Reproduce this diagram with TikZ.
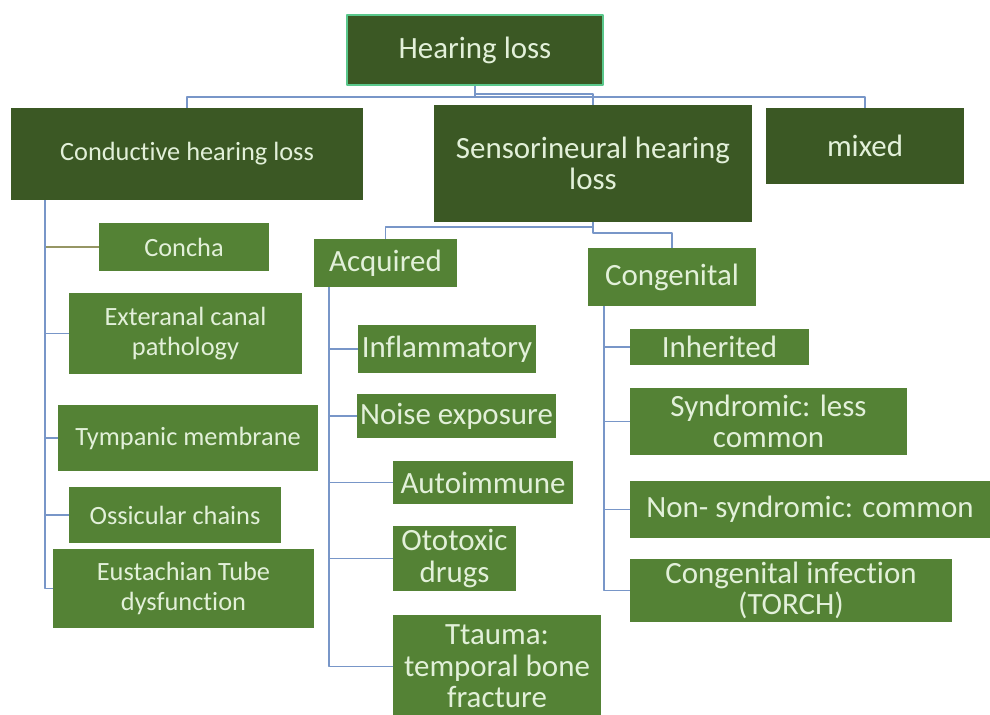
\documentclass[tikz,border=0pt]{standalone}
\usepackage{fontspec}
\setmainfont{Carlito}[Ligatures=NoCommon]
\definecolor{darkgr}{RGB}{59,88,36}
\definecolor{midgr}{RGB}{84,130,53}
\definecolor{txtgr}{RGB}{226,240,217}
\definecolor{linkbl}{RGB}{120,150,200}
\definecolor{linkol}{RGB}{150,150,100}
\definecolor{rimgr}{RGB}{90,200,140}
\begin{document}
\begin{tikzpicture}[x=0.02cm, y=-0.02cm, line join=round,
  hdbox/.style={fill=darkgr, text=txtgr, inner sep=0pt, align=center, font=\fontsize{17.6}{18}\selectfont},
  grpbox/.style={fill=midgr, text=txtgr, inner sep=0pt, align=center, font=\fontsize{17.6}{18}\selectfont},
  itembox/.style={grpbox, font=\fontsize{15}{17}\selectfont},
  link/.style={draw=linkbl, line width=1.1pt}]
\useasboundingbox (0,0) rectangle (990,715);
\clip (0,0) rectangle (990,715);
% top levels
\node[hdbox, draw=rimgr, line width=1pt, minimum width=5.12cm, minimum height=1.40cm] (hear) at (475,50) {Hearing loss};
\node[hdbox, font=\fontsize{15}{17}\selectfont, minimum width=7.04cm, minimum height=1.84cm] (cond) at (187,154) {Conductive hearing loss};
\node[hdbox, minimum width=6.36cm, minimum height=2.34cm] (sens) at (593,163.5) {Sensorineural hearing\\loss};
\node[hdbox, minimum width=3.96cm, minimum height=1.52cm] (mixed) at (865,146) {mixed};
\node[grpbox, minimum width=2.86cm, minimum height=0.96cm] (acq) at (385.5,263) {Acquired};
\node[grpbox, minimum width=3.36cm, minimum height=1.16cm] (cong) at (672,277) {Congenital};
% conductive
\node[itembox, minimum width=3.40cm, minimum height=0.96cm] (concha) at (184,247) {Concha};
\node[itembox, minimum width=4.66cm, minimum height=1.62cm] (canal) at (185.5,333.5) {Exteranal canal\\pathology};
\node[itembox, minimum width=5.20cm, minimum height=1.32cm] (tymp) at (188,438) {Tympanic membrane};
\node[itembox, minimum width=4.24cm, minimum height=1.12cm] (ossic) at (175,515) {Ossicular chains};
\node[itembox, minimum width=5.22cm, minimum height=1.58cm] (eust) at (183.5,588.5) {Eustachian Tube\\dysfunction};
% acquired
\node[grpbox, minimum width=3.56cm, minimum height=0.96cm] (infl) at (447,349) {Inflammatory};
\node[grpbox, minimum width=3.98cm, minimum height=0.88cm] (noise) at (456.5,416) {Noise exposure};
\node[grpbox, minimum width=3.60cm, minimum height=0.86cm] (auto) at (483,482.5) {Autoimmune};
\node[grpbox, minimum width=2.46cm, minimum height=1.30cm] (oto) at (454.5,558.5) {Ototoxic\\drugs};
\node[grpbox, minimum width=4.16cm, minimum height=2.06cm] (trauma) at (497,666.5) {Ttauma:\\temporal bone\\fracture};
% congenital
\node[grpbox, minimum width=3.58cm, minimum height=0.72cm] (inher) at (719.5,347) {Inherited};
\node[grpbox, minimum width=5.54cm, minimum height=1.34cm] (synd) at (768.5,421.5) {Syndromic: less\\common};
\node[grpbox, minimum width=7.20cm, minimum height=1.14cm] (nonsyn) at (810,509.5) {Non- syndromic: common};
\node[grpbox, minimum width=6.44cm, minimum height=1.26cm] (infect) at (791,590.5) {Congenital infection\\(TORCH)};
\draw[link] (hear.south) -- ++(0,11) -| (cond.north);
\draw[link] (hear.south) -- ++(0,8) -| (sens.north);
\draw[link] (hear.south) -- ++(0,11) -| (mixed.north);
\draw[link] (sens.south) -- ++(0,5) -| (acq.north);
\draw[link] (sens.south) -- ++(0,11) -| (cong.north);
\draw[link, draw=linkol] ([xshift=0.68cm]cond.south west) |- (concha.west);
\foreach \n in {canal,tymp,ossic,eust} \draw[link] ([xshift=0.68cm]cond.south west) |- (\n.west);
\foreach \n in {infl,noise,auto,oto,trauma} \draw[link] ([xshift=0.3cm]acq.south west) |- (\n.west);
\foreach \n in {inher,synd,nonsyn,infect} \draw[link] ([xshift=0.32cm]cong.south west) |- (\n.west);
\end{tikzpicture}
\end{document}
